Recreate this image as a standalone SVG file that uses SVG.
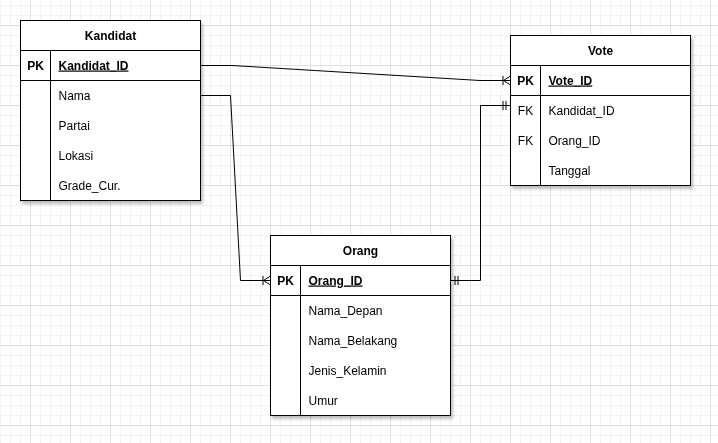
<svg xmlns="http://www.w3.org/2000/svg" width="718" height="443" viewBox="0 0 718 443">
<style>
.box{fill:#fff;stroke:#000;stroke-width:1}
.sep{stroke:#000;stroke-width:1;fill:none}
.t{font-family:"Liberation Sans",Arial,sans-serif;font-size:12px;fill:#000}
.h{font-weight:bold;text-anchor:middle}
.k{text-anchor:middle}
.b{font-weight:bold}
.u{text-decoration:underline}
.edge{fill:none;stroke:#000;stroke-width:1}
</style>
<defs>
<pattern id="grid" patternUnits="userSpaceOnUse" x="30" y="25" width="40" height="40">
<path d="M10.5 0V40M20.5 0V40M30.5 0V40M0 10.5H40M0 20.5H40M0 30.5H40" stroke="#f3f3f3" stroke-width="1" fill="none"/>
<path d="M0.5 0V40M0 0.5H40" stroke="#e0e0e0" stroke-width="1" fill="none"/>
</pattern>
<filter id="sh" x="-10%" y="-10%" width="130%" height="130%">
<feDropShadow dx="2" dy="3" stdDeviation="1.5" flood-color="#000" flood-opacity="0.25"/>
</filter>
<marker id="many" markerUnits="userSpaceOnUse" viewBox="-10 -6 11 12" refX="0" refY="0" markerWidth="11" markerHeight="12" orient="auto-start-reverse">
<path d="M-7.5 -4.5V4.5M-7 0L0 -4.5M-7 0L0 4.5" fill="none" stroke="#000" stroke-width="1"/>
</marker>
<marker id="one" markerUnits="userSpaceOnUse" viewBox="-10 -6 11 12" refX="0" refY="0" markerWidth="11" markerHeight="12" orient="auto-start-reverse">
<path d="M-7.5 -4.5V4.5M-4.5 -4.5V4.5" fill="none" stroke="#000" stroke-width="1"/>
</marker>
</defs>
<rect width="718" height="443" fill="#fff"/>
<rect width="718" height="443" fill="url(#grid)"/>

<g id="connectors">
<path class="edge" d="M200.5 65.5L232 65.5L480 80.5L510.5 80.5" marker-end="url(#many)"/>
<path class="edge" d="M200.5 95.5L230.5 95.5L240.5 280.5L270.5 280.5" marker-end="url(#many)"/>
<path class="edge" d="M450.5 280.5L480.5 280.5L480.5 105.5L510.5 105.5" marker-start="url(#one)" marker-end="url(#one)"/>
</g>

<g id="kandidat" filter="url(#sh)">
<rect class="box" x="20.5" y="20.5" width="180" height="180"/>
<path class="sep" d="M20.5 50.5H200.5M20.5 80.5H200.5M50.5 50.5V200.5"/>
<text class="t h" x="110.5" y="39.5">Kandidat</text>
<text class="t k b" x="35.5" y="69.5">PK</text>
<text class="t b u" x="58.5" y="69.5">Kandidat_ID</text>
<text class="t" x="58.5" y="99.5">Nama</text>
<text class="t" x="58.5" y="129.5">Partai</text>
<text class="t" x="58.5" y="159.5">Lokasi</text>
<text class="t" x="58.5" y="189.5">Grade_Cur.</text>
</g>

<g id="vote" filter="url(#sh)">
<rect class="box" x="510.5" y="35.5" width="180" height="150"/>
<path class="sep" d="M510.5 65.5H690.5M510.5 95.5H690.5M540.5 65.5V185.5"/>
<text class="t h" x="600.5" y="54.5">Vote</text>
<text class="t k b" x="525.5" y="84.5">PK</text>
<text class="t b u" x="548.5" y="84.5">Vote_ID</text>
<text class="t k" x="525.5" y="114.5">FK</text>
<text class="t" x="548.5" y="114.5">Kandidat_ID</text>
<text class="t k" x="525.5" y="144.5">FK</text>
<text class="t" x="548.5" y="144.5">Orang_ID</text>
<text class="t" x="548.5" y="174.5">Tanggal</text>
</g>

<g id="orang" filter="url(#sh)">
<rect class="box" x="270.5" y="235.5" width="180" height="180"/>
<path class="sep" d="M270.5 265.5H450.5M270.5 295.5H450.5M300.5 265.5V415.5"/>
<text class="t h" x="360.5" y="254.5">Orang</text>
<text class="t k b" x="285.5" y="284.5">PK</text>
<text class="t b u" x="308.5" y="284.5">Orang_ID</text>
<text class="t" x="308.5" y="314.5">Nama_Depan</text>
<text class="t" x="308.5" y="344.5">Nama_Belakang</text>
<text class="t" x="308.5" y="374.5">Jenis_Kelamin</text>
<text class="t" x="308.5" y="404.5">Umur</text>
</g>
</svg>
